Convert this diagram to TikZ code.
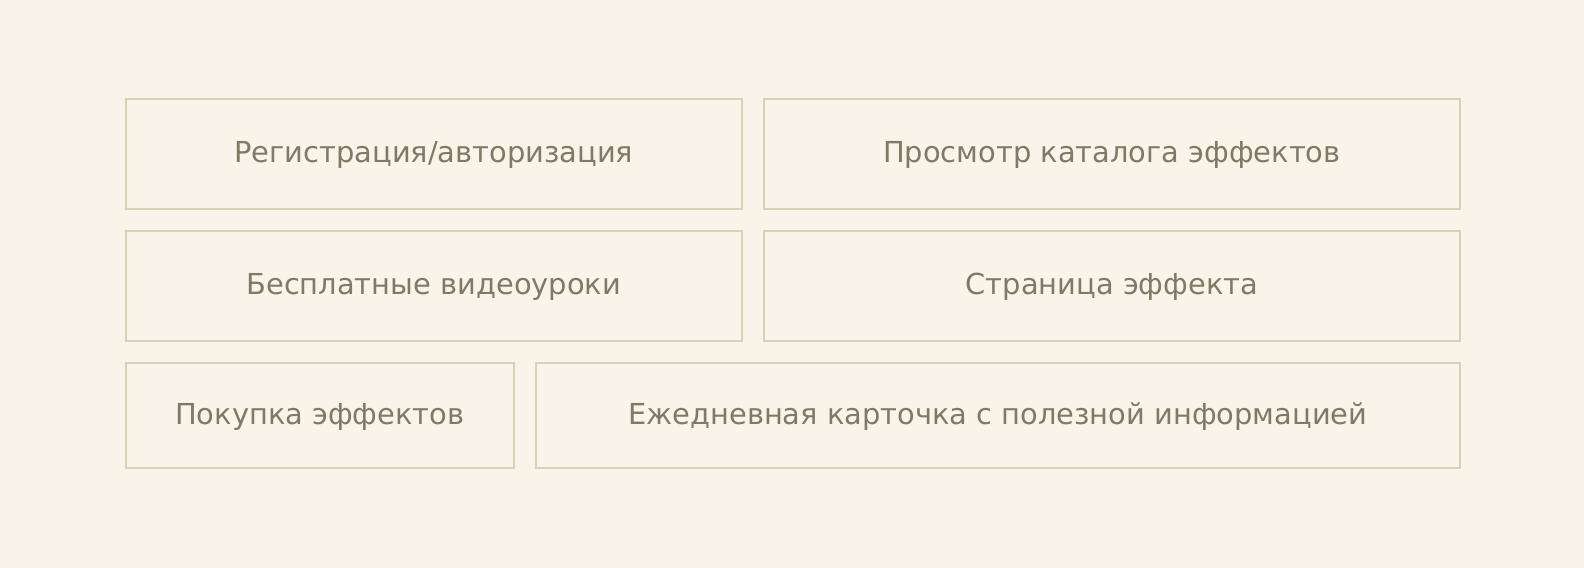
\documentclass[tikz,border=0pt]{standalone}
\usepackage{fontspec}
\setmainfont{DejaVu Sans}
\definecolor{bgc}{HTML}{F8F4E9}
\definecolor{linec}{HTML}{D6D2B5}
\definecolor{textc}{HTML}{7E7A66}
\begin{document}
\begin{tikzpicture}[x=1bp,y=-1bp,
  box/.style={draw=linec,line width=2bp},
  lbl/.style={text=textc,font=\fontsize{29}{33}\selectfont,inner sep=0pt,anchor=base}]
\useasboundingbox[fill=bgc] (0,0) rectangle (1584,568);
\draw[box] (125.5,98.7) rectangle (742,209);
\draw[box] (763.7,98.7) rectangle (1460,209);
\draw[box] (125.5,230.7) rectangle (742,340.7);
\draw[box] (763.7,230.7) rectangle (1460,340.7);
\draw[box] (125.5,362.7) rectangle (514,468.3);
\draw[box] (535.7,362.7) rectangle (1460,468.3);
\node[lbl] (t1) at (433.75,162.5) {Регистрация/авторизация};
\node[lbl] (t2) at (1111.85,162.5) {Просмотр каталога эффектов};
\node[lbl] (t3) at (433.75,294.5) {Бесплатные видеоуроки};
\node[lbl] (t4) at (1111.85,294.5) {Страница эффекта};
\node[lbl] (t5) at (319.75,424) {Покупка эффектов};
\node[lbl] (t6) at (997.85,424) {Ежедневная карточка с полезной информацией};
\end{tikzpicture}
\end{document}
